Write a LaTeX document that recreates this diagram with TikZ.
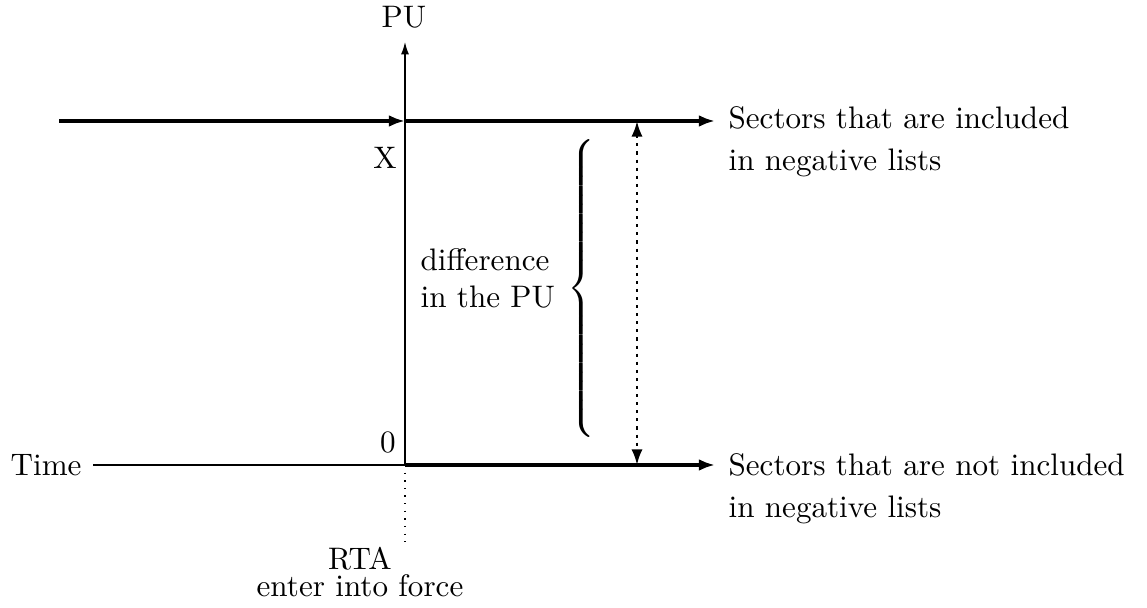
\documentclass[tikz,border=0pt]{standalone}
\usetikzlibrary{arrows.meta}
\begin{document}
\begin{tikzpicture}[x=0.3215pt,y=-0.3215pt,
  axisline/.style={line width=0.45pt},
  boldline/.style={line width=1.3pt},
  bigtip/.style={-{Latex[length=5.2pt,width=3.8pt]}},
  lbl/.style={inner sep=0pt}]
\useasboundingbox (0,0) rectangle (1147,608);
% coordinates
\coordinate (O) at (405,465);
\coordinate (Ytop) at (405,42);
\coordinate (Xl) at (405,121);
\coordinate (TL) at (59,121);
\coordinate (TR) at (715,121);
\coordinate (BR) at (715,465);
\coordinate (D) at (405,542);
\coordinate (Dt) at (637,121);
\coordinate (Db) at (637,465);
% labels
\node[lbl] (pu) at (404,17) {PU};
\node[lbl] (x) at (385,158) {X};
\node[lbl] (zero) at (388,442) {0};
\node[inner sep=3.5pt, anchor=east] (time) at (93,465) {Time};
\node[lbl, anchor=north west, align=left] (inc) at (728,106) {Sectors that are included\\[1.5pt] in negative lists};
\node[lbl, anchor=north west, align=left] (notinc) at (728,453) {Sectors that are not included\\[1.5pt] in negative lists};
\node[lbl, anchor=north west, align=left] (diff) at (420,248) {difference\\in the PU};
\node[lbl, anchor=north, align=center] (rta) at (360,547) {RTA\\[-3.5pt]enter into force};
\node[inner sep=0pt] (brace) at (583,291) {$\left\{\vrule height 47pt depth 47pt width 0pt\right.$};
% axes
\draw[axisline, -{Latex[length=4pt,width=2.6pt]}] (O) -- (Ytop);
\draw[axisline] (time.east) -- (O);
\draw[axisline, dotted] (O) -- (D);
% bold lines
\draw[boldline, bigtip] (TL) -- (Xl);
\draw[boldline, bigtip] (Xl) -- (TR);
\draw[boldline, bigtip] (O) -- (BR);
% difference arrow
\draw[line width=0.8pt, dash pattern=on 1pt off 1.6pt,
  {Latex[length=5pt,width=3.6pt]}-{Latex[length=5pt,width=3.6pt]}] (Dt) -- (Db);
\end{tikzpicture}
\end{document}
